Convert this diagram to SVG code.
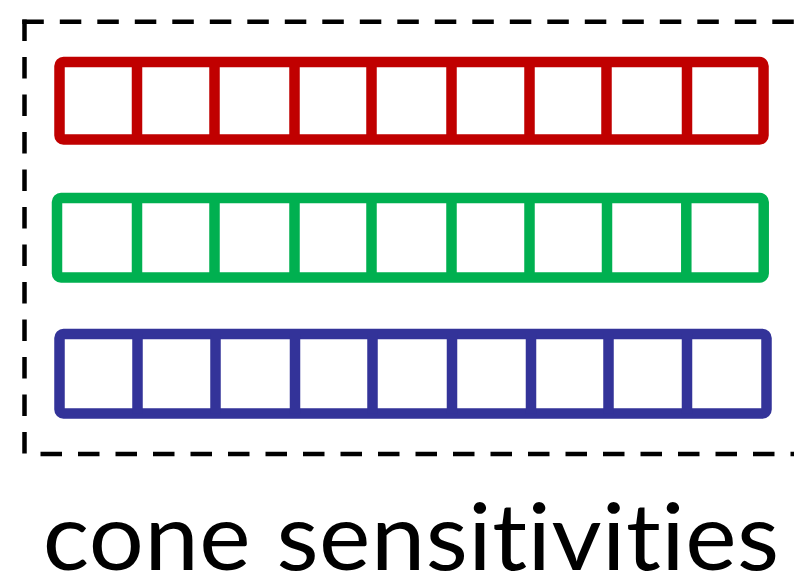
<svg xmlns="http://www.w3.org/2000/svg" width="794" height="576" viewBox="0 0 794 576">
<style>
.dash{fill:none;stroke:#000;stroke-width:4.5;stroke-dasharray:21.5 16}
.row{fill:none;stroke-width:10.5;stroke-linejoin:round}
.red{stroke:#C00000}
.green{stroke:#00B050}
.blue{stroke:#333399}
.label{font-family:Lato,"Liberation Sans",sans-serif;font-size:94px;fill:#000;letter-spacing:0.5px;font-variant-ligatures:none;font-feature-settings:"liga" 0,"clig" 0,"dlig" 0,"calt" 0}
</style>
<rect width="794" height="576" fill="#fff"/>
<g id="frame">
<line class="dash" x1="22.3" y1="21.8" x2="800" y2="21.8"/>
<line class="dash" x1="24.5" y1="19.6" x2="24.5" y2="456"/>
<line class="dash" x1="24.5" y1="454" x2="800" y2="454" stroke-dashoffset="21.5"/>
</g>
<g id="red-row">
<rect class="row red" x="59.5" y="62" width="704" height="77.5" rx="4"/>
<path class="row red" d="M137,62V139.5M214.5,62V139.5M294.5,62V139.5M371.5,62V139.5M451.5,62V139.5M529.5,62V139.5M606.5,62V139.5M687,62V139.5"/>
</g>
<g id="green-row">
<rect class="row green" x="57" y="198" width="706.7" height="79.5" rx="4"/>
<path class="row green" d="M137,198V277.5M214.5,198V277.5M294.5,198V277.5M371.5,198V277.5M451.5,198V277.5M529.5,198V277.5M607,198V277.5M686.3,198V277.5"/>
</g>
<g id="blue-row">
<rect class="row blue" x="59.5" y="334" width="707" height="79.5" rx="4"/>
<path class="row blue" d="M137.5,334V413.5M215.5,334V413.5M295,334V413.5M372.5,334V413.5M452,334V413.5M531,334V413.5M608.5,334V413.5M687,334V413.5"/>
</g>
<text class="label" x="42.7" y="569.5" textLength="737" lengthAdjust="spacingAndGlyphs">cone sensitivities</text>
</svg>
